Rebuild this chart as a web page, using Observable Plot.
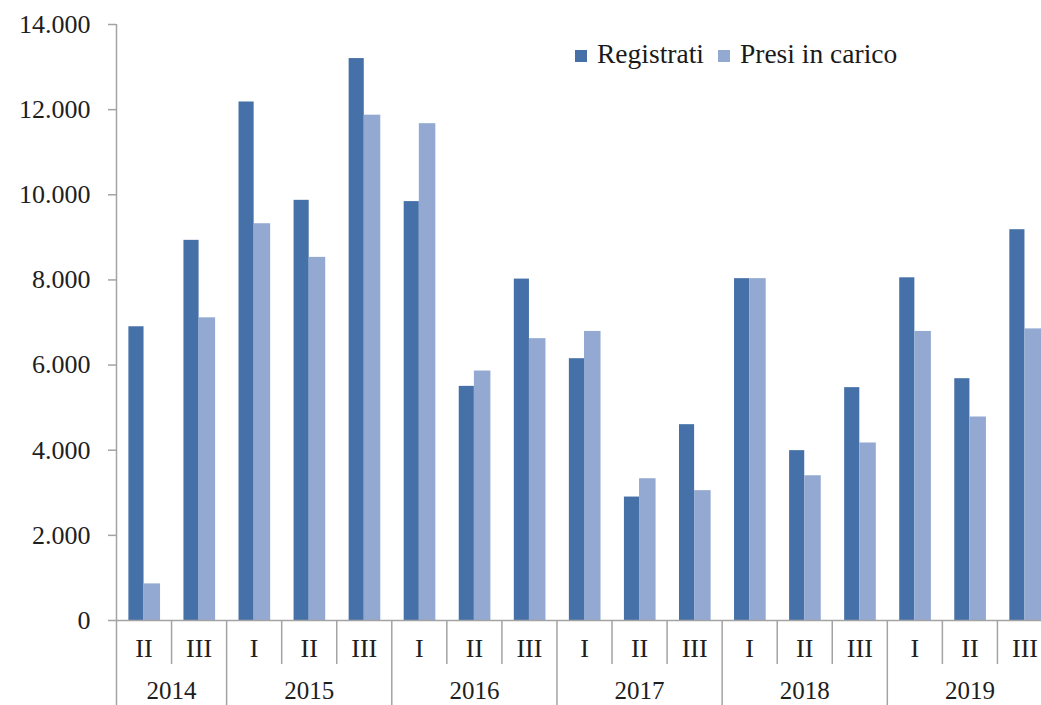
<!DOCTYPE html>
<html>
<head>
<meta charset="utf-8">
<script src="https://cdn.jsdelivr.net/npm/d3@7"></script>
<script src="https://cdn.jsdelivr.net/npm/@observablehq/plot@0.6"></script>
<style>
  html, body { margin: 0; padding: 0; background: #fff; }
  #wrap { position: relative; width: 1041px; height: 705px; overflow: hidden; }
  #legend { position: absolute; left: 575px; top: 38px; display: flex; align-items: center;
    font-family: "Liberation Serif", "Times New Roman", serif; font-size: 27.5px; color: #1a1a1a; }
  #legend .sw { width: 12px; height: 12px; display: inline-block; margin-right: 10px; margin-top: 4px; }
  #legend .item { display: flex; align-items: center; margin-right: 14px; }
</style>
</head>
<body>
<div id="wrap"></div>
<script>
// ---- data ----
const years    = ["2014","2014","2015","2015","2015","2016","2016","2016","2017","2017","2017","2018","2018","2018","2019","2019","2019"];
const quarters = ["II","III","I","II","III","I","II","III","I","II","III","I","II","III","I","II","III"];
const registrati   = [6900, 8930, 12180, 9870, 13200, 9840, 5500, 8020, 6150, 2900, 4600, 8030, 3990, 5470, 8050, 5680, 9180];
const presiInCarico = [860, 7110, 9320, 8530, 11870, 11670, 5860, 6620, 6790, 3330, 3050, 8030, 3400, 4170, 6790, 4780, 6850];
const seriesNames = ["Registrati", "Presi in carico"];
const yTicks = [0, 2000, 4000, 6000, 8000, 10000, 12000, 14000];

// ---- styles ----
const darkBlue = "#4671A8";
const lightBlue = "#93A9D1";
const axisGrey = "#A3A3A3";
const textColor = "#1e1e1e";
const font = "Liberation Serif, Times New Roman, serif";

const n = years.length;
const rows = d3.range(n).map(i => ({i, year: years[i], quarter: quarters[i], reg: registrati[i], pres: presiInCarico[i]}));

// layout in pixels
const width = 1041, height = 705;
const plotTop = 24, plotBottom = 620, xLeft = 116, xRight = 1052;
const pxPerUnit = (plotBottom - plotTop) / 14000;
const yBottom = -(height - plotBottom) / pxPerUnit;
const yAt = px => -(px - plotBottom) / pxPerUnit;  // pixel below axis -> y value
const bw = (xRight - xLeft) / n;

// year groups
const groups = [];
years.forEach((y, i) => {
  const g = groups.find(g => g.year === y);
  if (g) g.end = i + 1; else groups.push({year: y, start: i, end: i + 1});
});
const yearBounds = groups.map(g => g.start);
const quarterBounds = d3.range(1, n).filter(b => !yearBounds.includes(b));

const itFmt = d3.formatLocale({decimal: ",", thousands: ".", grouping: [3], currency: ["€", ""]}).format(",d");

const chart = Plot.plot({
  width, height,
  marginTop: 0, marginBottom: 0, marginLeft: 0, marginRight: 0,
  style: {background: "#fff", fontFamily: font},
  x: {domain: [0, n], range: [xLeft, xRight], axis: null},
  y: {domain: [yBottom, 14000], range: [height, plotTop], axis: null},
  marks: [
    // bars
    Plot.rectY(rows, {x1: d => d.i + 0.5 - 0.275, x2: d => d.i + 0.5, y1: 0, y2: "reg", fill: darkBlue}),
    Plot.rectY(rows, {x1: d => d.i + 0.5, x2: d => d.i + 0.5 + 0.3, y1: 0, y2: "pres", fill: lightBlue}),
    // axes lines
    Plot.ruleY([0], {x1: 0, x2: n + 1, stroke: axisGrey, strokeWidth: 1.5}),
    Plot.ruleX([0], {y1: yBottom, y2: 14000, stroke: axisGrey, strokeWidth: 1.5}),
    // y ticks
    Plot.ruleY(yTicks, {x1: -8 / bw, x2: 0, stroke: axisGrey, strokeWidth: 1.5}),
    Plot.text(yTicks, {x: 0, y: d => d, text: d => itFmt(d), textAnchor: "end", dx: -26,
      fontSize: 26, fontFamily: font, fill: textColor}),
    // category separators
    Plot.ruleX(quarterBounds, {y1: 0, y2: yAt(664), stroke: axisGrey, strokeWidth: 1.5}),
    Plot.ruleX(yearBounds.filter(b => b > 0).concat([n]), {y1: 0, y2: yBottom, stroke: axisGrey, strokeWidth: 1.5}),
    // quarter labels
    Plot.text(rows, {x: d => d.i + 0.5, y: yAt(648), text: "quarter", fontSize: 26, fontFamily: font, fill: textColor}),
    // year labels
    Plot.text(groups, {x: g => (g.start + g.end) / 2, y: yAt(690), text: "year", fontSize: 25, fontFamily: font, fill: textColor})
  ]
});

const wrap = document.getElementById("wrap");
wrap.appendChild(chart);

const legend = document.createElement("div");
legend.id = "legend";
[[seriesNames[0], darkBlue], [seriesNames[1], lightBlue]].forEach(([name, c]) => {
  const it = document.createElement("span");
  it.className = "item";
  const sw = document.createElement("span");
  sw.className = "sw";
  sw.style.background = c;
  const t = document.createElement("span");
  t.textContent = name;
  it.appendChild(sw); it.appendChild(t);
  legend.appendChild(it);
});
wrap.appendChild(legend);
</script>
</body>
</html>
